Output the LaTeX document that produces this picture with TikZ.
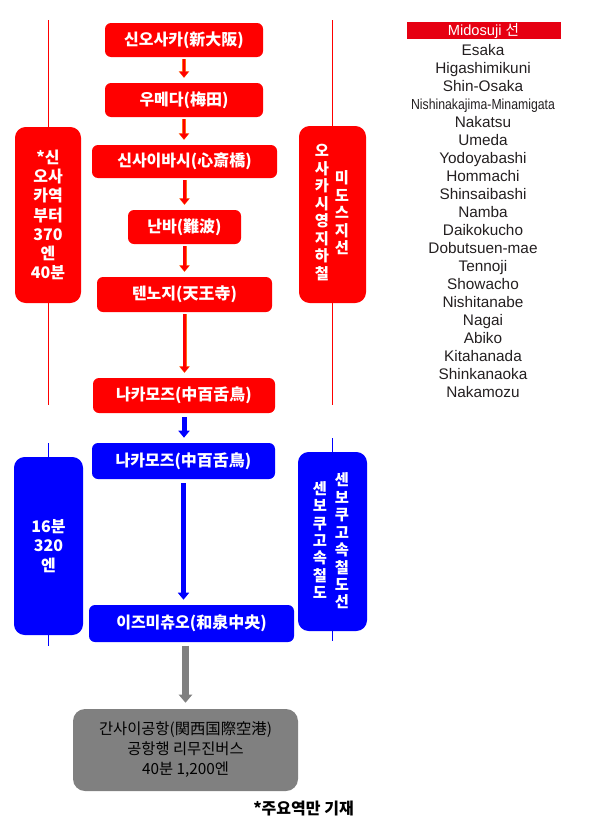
\documentclass[tikz,border=0pt]{standalone}
\usepackage{fontspec}
\usepackage{graphicx}
\setmainfont{Liberation Sans}
\newfontfamily\kr{Noto Sans CJK KR}
\usetikzlibrary{arrows.meta, positioning}
\definecolor{midored}{RGB}{255,0,0}
\definecolor{senbokublue}{RGB}{0,0,255}
\definecolor{limogray}{RGB}{128,128,128}
\definecolor{arroworange}{RGB}{255,110,20}
\definecolor{headerred}{RGB}{230,0,18}
\definecolor{listgray}{RGB}{35,31,32}

\begin{document}
\begin{tikzpicture}[
    x=0.75pt, y=-0.75pt,
    every node/.style={inner sep=0pt},
    station/.style={rectangle, rounded corners=4.5pt, text=white, font=\kr\bfseries\fontsize{12}{13}\selectfont, minimum height=25.5pt},
    redstation/.style={station, fill=midored},
    bluestation/.style={station, fill=senbokublue, minimum height=27pt},
    sidebox/.style={rectangle, rounded corners=8pt, text=white, font=\kr\bfseries\fontsize{12}{14.4}\selectfont, align=center, minimum width=50pt, minimum height=133pt},
    vtext/.style={text=white, font=\kr\bfseries\fontsize{11.5}{13.1}\selectfont, align=center},
    redguide/.style={draw=midored, line width=0.75pt},
    blueguide/.style={draw=senbokublue, line width=0.75pt},
    redarrow/.style={draw=midored, line width=1.9pt, -{Triangle[width=6.8pt,length=4.3pt]}, shorten <=1.5pt, shorten >=4.1pt,
        preaction={draw=arroworange, line width=3pt, -{Triangle[width=7.8pt,length=5pt]}, shorten <=1.5pt, shorten >=3.6pt}},
    bluearrow/.style={draw=senbokublue, line width=3.75pt, -{Triangle[width=8.25pt,length=5.25pt]}, shorten <=3pt, shorten >=3.75pt},
    grayarrow/.style={draw=limogray, line width=5.25pt, -{Triangle[width=9.75pt,length=6pt]}, shorten <=2.5pt, shorten >=4.5pt},
    stationname/.style={anchor=base, text=listgray, font=\fontsize{11.5}{13}\selectfont}
]
\useasboundingbox (0,0) rectangle (608,821);

% Guide lines
\coordinate (redltop) at (48,20);
\coordinate (redlbot) at (48,405);
\coordinate (redrtop) at (332,20);
\coordinate (redrbot) at (332,405);
\coordinate (blueltop) at (48,443);
\coordinate (bluelbot) at (48,646);
\coordinate (bluertop) at (332,438);
\coordinate (bluerbot) at (332,641);
\draw[redguide] (redltop) -- (redlbot);
\draw[redguide] (redrtop) -- (redrbot);
\draw[blueguide] (blueltop) -- (bluelbot);
\draw[blueguide] (bluertop) -- (bluerbot);

% Midosuji line
\node[redstation, minimum width=118.5pt] (shinosaka) at (184,40) {신오사카(新大阪)};
\node[redstation, minimum width=118.5pt] (umeda) at (184,100) {우메다(梅田)};
\node[redstation, minimum width=138.75pt, minimum height=24.75pt] (shinsaibashi) at (184.5,161.5) {신사이바시(心斎橋)};
\node[redstation, minimum width=84.75pt] (namba) at (184.5,227) {난바(難波)};
\node[redstation, minimum width=131.25pt, minimum height=26.25pt] (tennoji) at (184.5,294.5) {텐노지(天王寺)};
\node[redstation, minimum width=136.5pt, minimum height=26.25pt] (rnakamozu) at (184,395.5) {나카모즈(中百舌鳥)};

\draw[redarrow] (shinosaka.south) -- (shinosaka.south |- umeda.north);
\draw[redarrow] (umeda.south) -- (umeda.south |- shinsaibashi.north);
\draw[redarrow] (shinsaibashi.south) -- (shinsaibashi.south |- namba.north);
\draw[redarrow] (namba.south) -- (namba.south |- tennoji.north);
\draw[redarrow] (tennoji.south) -- (tennoji.south |- rnakamozu.north);

\node[sidebox, fill=midored, minimum width=49.5pt, minimum height=132pt] (redtime) at (48,215) {*신\\오사\\카역\\부터\\370\\엔\\40분};
\node[sidebox, fill=midored, minimum width=50.25pt, minimum height=132.75pt] (redline) at (332.5,214.5) {};
\node[vtext] (redlinel) at (322,212.5) {오\\사\\카\\시\\영\\지\\하\\철};
\node[vtext] (redliner) at (342,213) {미\\도\\스\\지\\선};

% Senboku line
\node[bluestation, minimum width=137.25pt] (bnakamozu) at (183.5,461) {나카모즈(中百舌鳥)};
\node[bluestation, minimum width=153.75pt, minimum height=27.75pt] (izumi) at (191.5,623.5) {이즈미츄오(和泉中央)};

\draw[bluearrow] (rnakamozu.south) -- (rnakamozu.south |- bnakamozu.north);
\draw[bluearrow] (bnakamozu.south) -- (bnakamozu.south |- izumi.north);

\node[sidebox, fill=senbokublue, minimum width=51.75pt, minimum height=133.5pt] (bluetime) at (48.5,546) {16분\\320\\엔};
\node[sidebox, fill=senbokublue, minimum width=51.75pt, minimum height=134.25pt] (blueline) at (332.5,541.5) {};
\node[vtext] (bluelinel) at (320,540) {센\\보\\쿠\\고\\속\\철\\도};
\node[vtext] (blueliner) at (342,541) {센\\보\\쿠\\고\\속\\철\\도\\선};

% Limousine bus
\node[rectangle, rounded corners=9pt, fill=limogray, minimum width=168.75pt, minimum height=61.5pt, align=center, font=\kr\fontsize{11.5}{15}\selectfont] (kix) at (185.5,750) {간사이공항(関西国際空港)\\공항행 리무진버스\\40분 1,200엔};
\draw[grayarrow] (kix.north |- izumi.south) -- (kix.north);

\node[font=\kr\bfseries\fontsize{12}{14}\selectfont] (note) at (303.5,809) {*주요역만 기재};

% Station list
\node[fill=headerred, minimum width=115.5pt, minimum height=12.75pt, text=white, font=\fontsize{11}{12}\selectfont] (listhead) at (483.5,30.5) {Midosuji {\kr 선}};
\foreach \stn [count=\i] in {Esaka, Higashimikuni, Shin-Osaka, {\scalebox{0.8}[0.95]{Nishinakajima-Minamigata}}, Nakatsu, Umeda, Yodoyabashi, Hommachi, Shinsaibashi, Namba, Daikokucho, Dobutsuen-mae, Tennoji, Showacho, Nishitanabe, Nagai, Abiko, Kitahanada, Shinkanaoka, Nakamozu}
    \node[stationname] (stn\i) at (483, 37.5+18*\i) {\stn};

\end{tikzpicture}
\end{document}
